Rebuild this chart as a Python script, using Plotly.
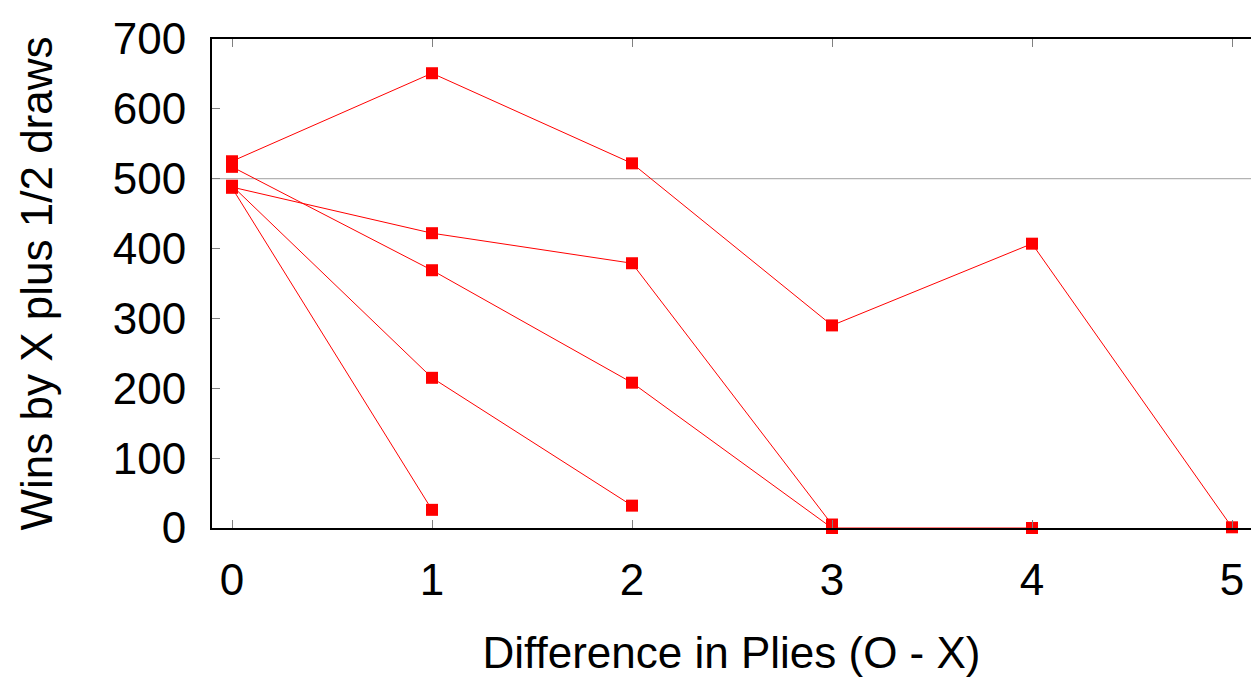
import plotly.graph_objects as go

plies = [0, 1, 2, 3, 4, 5]
series_a = [525, 651, 522, 290, 407, 1]
series_b = [488, 422, 379, 5]
series_c = [517, 369, 208, 0, 0]
series_d = [490, 215, 32]
series_e = [487, 26]

all_series = [series_a, series_b, series_c, series_d, series_e]

fig = go.Figure()
for s in all_series:
    fig.add_trace(go.Scatter(
        x=plies[:len(s)], y=s, mode="lines+markers",
        line=dict(color="#ff0000", width=1),
        marker=dict(symbol="square", size=12, color="#ff0000"),
        showlegend=False, cliponaxis=False,
    ))

fig.add_shape(type="line", xref="paper", x0=0, x1=1, yref="y", y0=500, y1=500,
              line=dict(color="#a0a0a0", width=1), layer="below")

font = dict(family="Liberation Sans, Arial, sans-serif", size=44, color="black")

fig.update_layout(
    width=1251, height=677,
    margin=dict(l=212, r=0, t=39, b=149),
    paper_bgcolor="white", plot_bgcolor="white",
    font=font,
    xaxis=dict(
        range=[-0.1, 5.095], tickvals=plies, ticktext=[str(p) for p in plies],
        ticks="inside", ticklen=8, tickcolor="#808080", tickwidth=1,
        showgrid=False, zeroline=False,
        showline=True, linecolor="black", linewidth=2, mirror="allticks",
        ticklabelstandoff=12,
        title=dict(text="Difference in Plies (O - X)", font=font, standoff=38),
    ),
    yaxis=dict(
        range=[0, 700], tickvals=[0, 100, 200, 300, 400, 500, 600, 700],
        ticks="inside", ticklen=8, tickcolor="#808080", tickwidth=1,
        showgrid=False, zeroline=False,
        showline=True, linecolor="black", linewidth=2,
        ticklabelstandoff=15,
        title=dict(text="Wins by X plus 1/2 draws", font=font, standoff=46),
    ),
)

fig.write_html("out.html")
